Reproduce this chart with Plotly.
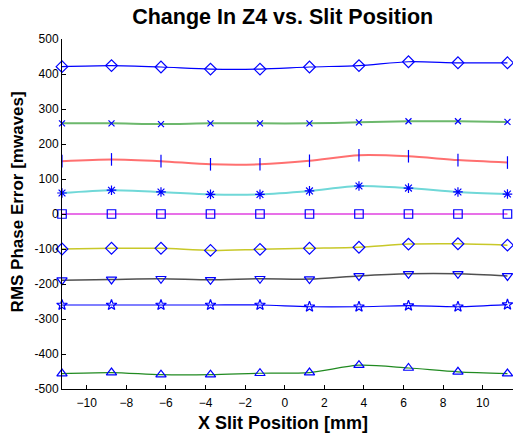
import plotly.graph_objects as go

# Slit positions [mm]
x_pos = [-11.25, -8.75, -6.25, -3.75, -1.25, 1.25, 3.75, 6.25, 8.75, 11.25]

# RMS phase error [mwaves] for each curve, offset per run
run_1 = [421, 424, 420, 414, 414, 420, 424, 435, 432, 432]
run_2 = [259, 259, 257, 259, 259, 259, 262, 265, 265, 263]
run_3 = [151, 156, 151, 142, 142, 152, 168, 165, 154, 147]
run_4 = [60, 68, 63, 56, 56, 66, 80, 74, 63, 57]
run_5 = [0, 0, 0, 0, 0, 0, 0, 0, 0, 0]
run_6 = [-100, -98, -98, -104, -101, -98, -95, -86, -85, -89]
run_7 = [-189, -187, -185, -188, -185, -186, -177, -171, -171, -177]
run_8 = [-260, -260, -260, -260, -260, -265, -265, -262, -265, -259]
run_9 = [-456, -453, -459, -459, -455, -453, -432, -440, -451, -456]

y_ticks = [500, 400, 300, 200, 100, 0, -100, -200, -300, -400, -500]
x_ticks = [-10, -8, -6, -4, -2, 0, 2, 4, 6, 8, 10]

series = [
    (run_1, "#0000ff", 1.2, "diamond-open", 9),
    (run_2, "#6cb86c", 2.0, "x-thin-open", 6),
    (run_3, "#ff7070", 2.0, "line-ns-open", 9),
    (run_4, "#70d8d8", 2.0, "asterisk-open", 8),
    (run_5, "#e040e0", 1.5, "square-open", 8.5),
    (run_6, "#c8c828", 1.5, "diamond-open", 9),
    (run_7, "#505050", 1.5, "triangle-down-open", 9),
    (run_8, "#0000ff", 1.2, "star-open", 8),
    (run_9, "#208a20", 1.2, "triangle-up-open", 9),
]

fig = go.Figure()
for ys, col, lw, sym, sz in series:
    fig.add_trace(go.Scatter(
        x=x_pos, y=ys, mode="lines",
        line=dict(color=col, width=lw, shape="spline", smoothing=0.8),
        showlegend=False, hoverinfo="skip",
    ))
for ys, col, lw, sym, sz in series:
    fig.add_trace(go.Scatter(
        x=x_pos, y=ys, mode="markers",
        marker=dict(symbol=sym, size=sz, color="#0000ff",
                    line=dict(color="#0000ff", width=1.2)),
        showlegend=False, cliponaxis=False,
    ))

font = "Liberation Sans, Arial, sans-serif"

# Axis titles placed as annotations for precise positioning
fig.add_annotation(
    text="<b>X Slit Position [mm]</b>", xref="paper", yref="paper",
    x=0.49, y=-0.097, xanchor="center", yanchor="middle", showarrow=False,
    font=dict(family=font, size=18, color="black"),
)
fig.add_annotation(
    text="<b>RMS Phase Error [mwaves]</b>", xref="paper", yref="paper",
    x=-0.0998, y=0.536, xanchor="center", yanchor="middle", showarrow=False,
    textangle=-90, font=dict(family=font, size=17, color="black"),
)

fig.update_layout(
    width=513, height=435,
    margin=dict(l=62, r=0, t=39, b=46),
    paper_bgcolor="white", plot_bgcolor="white",
    title=dict(text="<b>Change In Z4 vs. Slit Position</b>",
               font=dict(family=font, size=21.5, color="black"),
               x=0.551, xanchor="center", y=0.962, yanchor="middle"),
    xaxis=dict(
        range=[-11.25, 11.53], tickvals=x_ticks,
        ticks="inside", ticklen=4, tickcolor="black",
        showline=True, linecolor="black", linewidth=1,
        showgrid=False, zeroline=False,
        ticklabelstandoff=3,
        tickfont=dict(family=font, size=12, color="black"),
    ),
    yaxis=dict(
        range=[-500, 500], tickvals=y_ticks,
        ticktext=[str(v) for v in y_ticks],
        ticks="inside", ticklen=4, tickcolor="black",
        showline=True, linecolor="black", linewidth=1,
        showgrid=False, zeroline=False,
        tickfont=dict(family=font, size=12, color="black"),
    ),
)

fig.write_html("out.html")
